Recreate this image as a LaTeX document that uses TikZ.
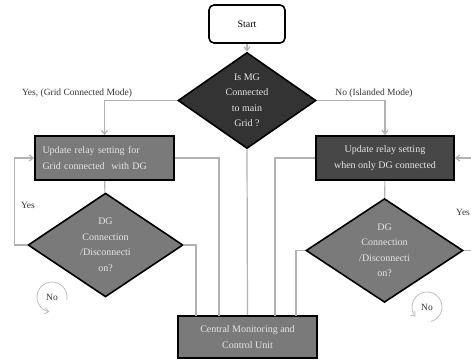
\documentclass[tikz,border=0pt]{standalone}
\usepackage{fontspec}
\setmainfont{Liberation Serif}
\usepackage{tikz}
\usetikzlibrary{shapes,shapes.geometric,arrows.meta,positioning,calc}

\begin{document}
\begin{tikzpicture}[
    x=1pt, y=-1pt,
    startbox/.style={rectangle, draw=black, fill=white, line width=1.6pt, rounded corners=5pt, minimum width=76pt, minimum height=38pt, font=\fontsize{10}{15}\selectfont},
    procbox/.style={rectangle, draw=black, line width=1.6pt, minimum width=139pt, minimum height=44pt, align=center, text=white!90!black, font=\fontsize{10}{16}\selectfont},
    decision/.style={diamond, draw=black, line width=1.6pt, inner sep=0pt, align=center, text=white!90!black, font=\fontsize{10}{15.5}\selectfont},
    conn/.style={draw=black!30, line width=1.2pt},
    connarrow/.style={conn, -{Straight Barb[length=4pt,width=6pt]}},
    lbl/.style={font=\fontsize{9.5}{11}\selectfont, text=black!80}
]
    \useasboundingbox (0,0) rectangle (471,362);

    % Nodes
    \node[startbox] (start) at (247,24) {Start};
    \node[decision, fill=black!80, minimum width=138pt, minimum height=95pt] (mg) at (247,100.5) {Is MG\\Connected\\to main\\Grid ?};
    \node[procbox, fill=black!52, align=left, text width=124pt] (grid) at (104.5,158) {Update relay setting for\\Grid connected\ \ with DG};
    \node[procbox, fill=black!72, minimum width=138pt] (isl) at (385,158) {Update relay setting\\when only DG connected};
    \node[decision, fill=black!52, minimum width=155pt, minimum height=84pt] (dgl) at (105.5,245) {DG\\Connection\\/Disconnecti\\on?};
    \node[decision, fill=black!52, minimum width=157pt, minimum height=95pt] (dgr) at (384.5,250.5) {DG\\Connection\\/Disconnecti\\on?};
    \node[procbox, fill=black!52, minimum height=42pt] (cmu) at (247.5,337) {Central Monitoring and\\Control Unit};

    % Ends of the links into the central unit
    \coordinate (c1) at (196,316);
    \coordinate (c2) at (219,316);
    \coordinate (c4) at (275,316);
    \coordinate (c5) at (296,316);
    \coordinate (ryes) at (471,250.5);
    \coordinate (rin) at (471,158);

    % Main flow
    \draw[connarrow] (start) -- (mg);
    \draw[connarrow] (mg.west) -| (grid.north);
    \draw[connarrow] (mg.east) -| (isl.north);
    \draw[conn] (grid) -- (dgl);
    \draw[conn] (isl) -- (dgr);

    % Yes loops
    \draw[connarrow] (dgl.west) -- ++(-13,0) |- (grid.west);
    \draw[conn] (dgr.east) -- (ryes);
    \draw[connarrow] (rin) -- (isl.east);

    % Links to central unit
    \draw[conn] (dgl.east) -| (c1);
    \draw[conn] (grid.east) -| (c2);
    \draw[conn] (mg.south) -- (cmu.north);
    \draw[conn] (isl.west) -| (c4);
    \draw[conn] (dgr.west) -| (c5);

    % No loops
    \node[lbl] (nol) at (52,297) {No};
    \draw[connarrow, line width=0.8pt, draw=black!25] ($(nol)+(10:15)$) arc[start angle=10, end angle=-260, radius=15];
    \node[lbl] (nor) at (427,307) {No};
    \draw[connarrow, line width=0.8pt, draw=black!25] ($(nor)+(75:15)$) arc[start angle=75, end angle=-220, radius=15];

    % Labels
    \node[lbl] (yesgrid) at (77,93) {Yes, (Grid Connected Mode)};
    \node[lbl] (noisl) at (374,93) {No (Islanded Mode)};
    \node[lbl] (yesl) at (28,205) {Yes};
    \node[lbl] (yesr) at (463,212) {Yes};
\end{tikzpicture}
\end{document}
